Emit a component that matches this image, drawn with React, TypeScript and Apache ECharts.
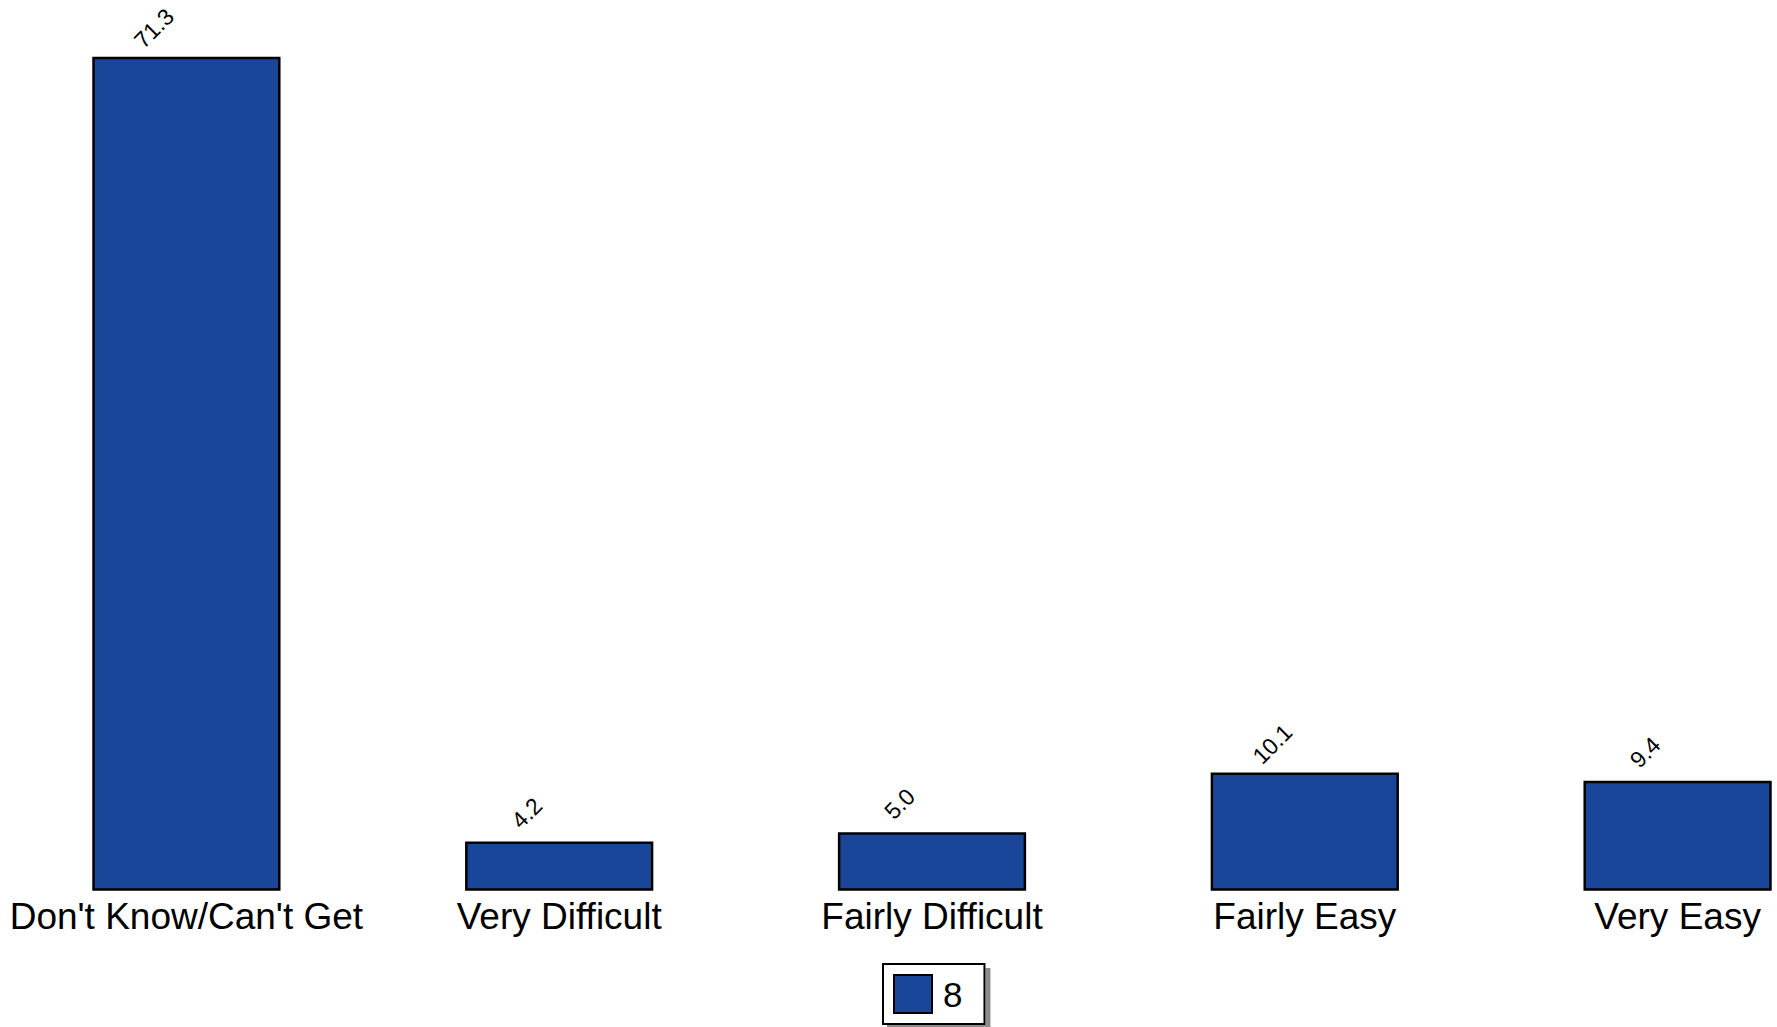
import React, { useEffect, useRef } from "react";
import * as echarts from "echarts";

const categories = ["Don't Know/Can't Get", "Very Difficult", "Fairly Difficult", "Fairly Easy", "Very Easy"];
const values = [71.3, 4.2, 5.0, 10.1, 9.4];
const seriesName = "8";

export default function App() {
  const ref = useRef<HTMLDivElement>(null);
  useEffect(() => {
    document.body.style.margin = "0";
    const chart = echarts.init(ref.current!, null, { renderer: "svg" });
    chart.setOption({
      animation: false,
      backgroundColor: "#ffffff",
      grid: { left: 0, right: 0, top: 13.4, bottom: 136.3, containLabel: false },
      xAxis: {
        type: "category",
        data: categories,
        axisLine: { show: false },
        axisTick: { show: false },
        axisLabel: {
          interval: 0,
          margin: 7,
          color: "#000",
          fontSize: 37,
          fontFamily: "Liberation Sans, Arial, sans-serif",
        },
      },
      yAxis: {
        type: "value",
        min: 0,
        max: 75,
        show: false,
        splitLine: { show: false },
      },
      legend: {
        data: [{ name: seriesName, icon: "rect" }],
        left: 883,
        top: 964,
        orient: "horizontal",
        itemWidth: 38,
        itemHeight: 38,
        padding: [10, 22, 10, 10],
        backgroundColor: "#ffffff",
        borderColor: "#000",
        borderWidth: 2,
        shadowColor: "#8c8c8c",
        shadowBlur: 0,
        shadowOffsetX: 5,
        shadowOffsetY: 5,
        textStyle: {
          color: "#000",
          fontSize: 35,
          fontFamily: "Liberation Sans, Arial, sans-serif",
          padding: [0, 0, 0, 6],
        },
      },
      series: [
        {
          name: seriesName,
          type: "bar",
          data: values,
          barCategoryGap: "49.5%",
          itemStyle: { color: "#1a4699", borderColor: "#000", borderWidth: 2.5 },
          label: {
            show: true,
            position: "top",
            rotate: 45,
            align: "center",
            verticalAlign: "middle",
            offset: [-6.4, -39.5],
            formatter: (p: any) => Number(p.value).toFixed(1),
            color: "#000",
            fontSize: 23,
            fontFamily: "Liberation Sans, Arial, sans-serif",
          },
        },
      ],
    });
    return () => chart.dispose();
  }, []);
  return (
    <div style={{ width: 1777, height: 1027, overflow: "hidden", position: "relative" }}>
      <div ref={ref} style={{ width: 1864, height: 1027 }} />
    </div>
  );
}
